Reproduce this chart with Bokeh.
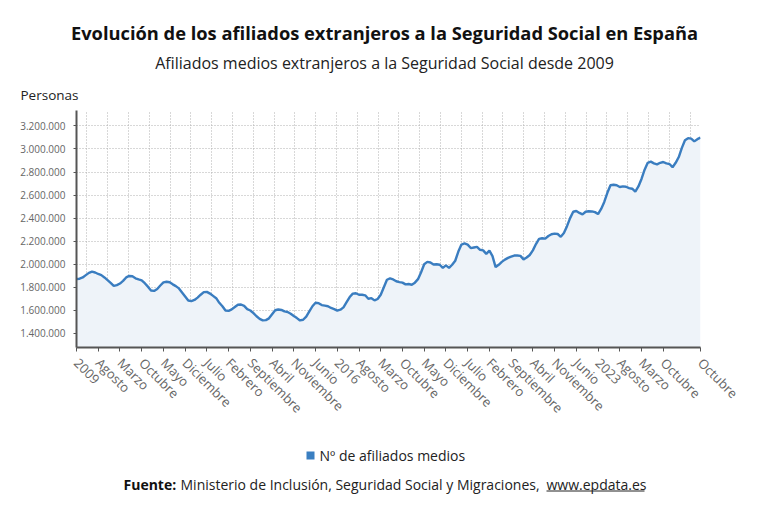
import math
from bokeh.plotting import figure
from bokeh.layouts import column
from bokeh.models import FixedTicker, CustomJSTickFormatter, ColumnDataSource, Range1d
from bokeh.core.properties import value
from bokeh.embed import file_html
from bokeh.resources import INLINE

# ---------------- data ----------------
title_text = "Evolución de los afiliados extranjeros a la Seguridad Social en España"
subtitle_text = "Afiliados medios extranjeros a la Seguridad Social desde 2009"
y_label_text = "Personas"
legend_text = "Nº de afiliados medios"
source_bold = "Fuente:"
source_rest = "Ministerio de Inclusión, Seguridad Social y Migraciones,"
source_link = "www.epdata.es"

# monthly averages, Jan 2009 .. Oct 2025 (millions)
v2009 = [1.872, 1.874, 1.885, 1.905, 1.925, 1.935, 1.928, 1.915, 1.905, 1.885, 1.862, 1.838]
v2010 = [1.812, 1.818, 1.832, 1.855, 1.885, 1.898, 1.895, 1.878, 1.868, 1.860, 1.835, 1.805]
v2011 = [1.772, 1.768, 1.785, 1.815, 1.842, 1.848, 1.843, 1.825, 1.810, 1.790, 1.755, 1.720]
v2012 = [1.685, 1.680, 1.690, 1.710, 1.735, 1.758, 1.760, 1.745, 1.725, 1.705, 1.665, 1.635]
v2013 = [1.598, 1.595, 1.608, 1.628, 1.648, 1.650, 1.638, 1.610, 1.598, 1.575, 1.548, 1.525]
v2014 = [1.512, 1.515, 1.530, 1.565, 1.600, 1.607, 1.603, 1.590, 1.585, 1.570, 1.550, 1.532]
v2015 = [1.512, 1.518, 1.545, 1.590, 1.635, 1.665, 1.662, 1.645, 1.640, 1.635, 1.620, 1.610]
v2016 = [1.597, 1.605, 1.625, 1.670, 1.715, 1.745, 1.748, 1.735, 1.735, 1.730, 1.700, 1.705]
v2017 = [1.686, 1.698, 1.735, 1.800, 1.865, 1.877, 1.868, 1.852, 1.845, 1.840, 1.825, 1.828]
v2018 = [1.822, 1.840, 1.870, 1.930, 2.000, 2.020, 2.015, 1.997, 2.000, 1.995, 1.968, 1.990]
v2019 = [1.968, 1.995, 2.030, 2.110, 2.170, 2.180, 2.170, 2.140, 2.145, 2.150, 2.125, 2.120]
v2020 = [2.090, 2.118, 2.070, 1.975, 1.995, 2.020, 2.040, 2.055, 2.065, 2.075, 2.075, 2.072]
v2021 = [2.042, 2.058, 2.080, 2.120, 2.175, 2.220, 2.225, 2.222, 2.245, 2.260, 2.265, 2.262]
v2022 = [2.238, 2.270, 2.330, 2.400, 2.455, 2.462, 2.445, 2.432, 2.455, 2.460, 2.458, 2.452]
v2023 = [2.435, 2.480, 2.540, 2.620, 2.685, 2.690, 2.685, 2.670, 2.675, 2.672, 2.660, 2.655]
v2024 = [2.630, 2.675, 2.740, 2.820, 2.880, 2.890, 2.875, 2.866, 2.880, 2.887, 2.875, 2.870]
v2025 = [2.842, 2.880, 2.930, 3.010, 3.076, 3.094, 3.090, 3.066, 3.085, 3.098]

x_tick_labels = ["2009", "Agosto", "Marzo", "Octubre", "Mayo", "Diciembre", "Julio",
                 "Febrero", "Septiembre", "Abril", "Noviembre", "Junio", "2016", "Agosto",
                 "Marzo", "Octubre", "Mayo", "Diciembre", "Julio", "Febrero", "Septiembre",
                 "Abril", "Noviembre", "Junio", "2023", "Agosto", "Marzo", "Octubre", "Octubre"]
y_ticks = [1400000, 1600000, 1800000, 2000000, 2200000, 2400000, 2600000,
           2800000, 3000000, 3200000]

values_m = (v2009 + v2010 + v2011 + v2012 + v2013 + v2014 + v2015 + v2016 + v2017 +
            v2018 + v2019 + v2020 + v2021 + v2022 + v2023 + v2024 + v2025)
values = [v * 1e6 for v in values_m]
months = list(range(len(values)))
last = months[-1]
tick_pos = [7 * i for i in range(len(x_tick_labels) - 1)] + [last]
overrides = {t: lab for t, lab in zip(tick_pos, x_tick_labels)}

# ---------------- styling ----------------
FONT = "Open Sans"
W = 760
HEAD_H, MAIN_H, FOOT_H = 108, 332, 64
y0, y1 = 1277000, 3334000
TXT = "#222222"


def text_fig(h):
    f = figure(width=W, height=h, output_backend="svg", toolbar_location=None,
               x_range=Range1d(0, W), y_range=Range1d(h, 0),
               x_axis_location=None, y_axis_location=None,
               min_border=0, outline_line_color=None, frame_align=False)
    f.xgrid.visible = False
    f.ygrid.visible = False
    return f


# header
head = text_fig(HEAD_H)
head.text(x=[384], y=[32], text=[title_text], text_font=value(FONT),
          text_font_size="18.3px", text_font_style="bold", text_align="center",
          text_baseline="middle", text_color="#111111")
head.text(x=[384], y=[62], text=[subtitle_text], text_font=value(FONT),
          text_font_size="16px", text_align="center", text_baseline="middle",
          text_color=TXT)
head.text(x=[20], y=[94], text=[y_label_text], text_font=value(FONT),
          text_font_size="13.5px", text_align="left", text_baseline="middle",
          text_color=TXT)

# main chart
p = figure(width=W, height=MAIN_H, output_backend="svg", toolbar_location=None,
           x_range=Range1d(0, last), y_range=Range1d(y0, y1),
           min_border_left=76, min_border_right=60, min_border_top=2,
           min_border_bottom=93, outline_line_color=None, frame_align=False)

src = ColumnDataSource(dict(x=months, y=values, base=[y0] * len(values)))
p.varea(x="x", y1="base", y2="y", source=src, fill_color="#eef3f9", fill_alpha=1.0)
p.line(x="x", y="y", source=src, line_color="#3a7dc0", line_width=2.4)

p.yaxis.ticker = FixedTicker(ticks=y_ticks)
p.yaxis.formatter = CustomJSTickFormatter(code="""
return Math.round(tick).toString().replace(/\\B(?=(\\d{3})+(?!\\d))/g, '.');
""")
p.yaxis.major_label_text_font = FONT
p.yaxis.major_label_text_font_size = "10px"
p.yaxis.major_label_text_color = "#666666"
p.yaxis.major_label_standoff = 8
p.yaxis.axis_line_color = "#555555"
p.yaxis.axis_line_width = 2
p.yaxis.major_tick_line_color = "#555555"
p.yaxis.major_tick_in = 0
p.yaxis.major_tick_out = 3
p.yaxis.minor_tick_line_color = None

p.xaxis.ticker = FixedTicker(ticks=tick_pos)
p.xaxis.major_label_overrides = overrides
p.xaxis.major_label_orientation = -math.pi / 4
p.xaxis.major_label_standoff = 9
p.xaxis.major_label_text_font = FONT
p.xaxis.major_label_text_font_size = "13px"
p.xaxis.major_label_text_color = "#666666"
p.xaxis.axis_line_color = "#555555"
p.xaxis.axis_line_width = 2
p.xaxis.major_tick_line_color = "#555555"
p.xaxis.major_tick_in = 0
p.xaxis.major_tick_out = 4
p.xaxis.minor_tick_line_color = None

p.ygrid.ticker = FixedTicker(ticks=y_ticks)
p.ygrid.grid_line_color = "#b0b0b0"
p.ygrid.grid_line_dash = "1 2"
p.xgrid.ticker = FixedTicker(ticks=[(k + 0.5) * last / 30 for k in range(30)])
p.xgrid.grid_line_color = "#b0b0b0"
p.xgrid.grid_line_dash = "1 2"

# footer
foot = text_fig(FOOT_H)
foot.scatter(x=[310], y=[15], marker="square", size=8, fill_color="#3a7fc1",
             line_color=None)
foot.text(x=[319], y=[15], text=[legend_text], text_font=value(FONT),
          text_font_size="14px", text_align="left", text_baseline="middle",
          text_color=TXT)
foot.text(x=[123], y=[44], text=[source_bold], text_font=value(FONT),
          text_font_size="14px", text_font_style="bold", text_align="left",
          text_baseline="middle", text_color="#111111")
foot.text(x=[180], y=[44], text=[source_rest], text_font=value(FONT),
          text_font_size="14px", text_align="left", text_baseline="middle",
          text_color=TXT)
foot.text(x=[546], y=[44], text=[source_link], text_font=value(FONT),
          text_font_size="14px", text_align="left", text_baseline="middle",
          text_color=TXT)
foot.segment(x0=[546], y0=[50.5], x1=[644], y1=[50.5], line_color=TXT, line_width=1)

layout = column(head, p, foot, spacing=0)
open("out.html", "w").write(file_html(layout, INLINE))
